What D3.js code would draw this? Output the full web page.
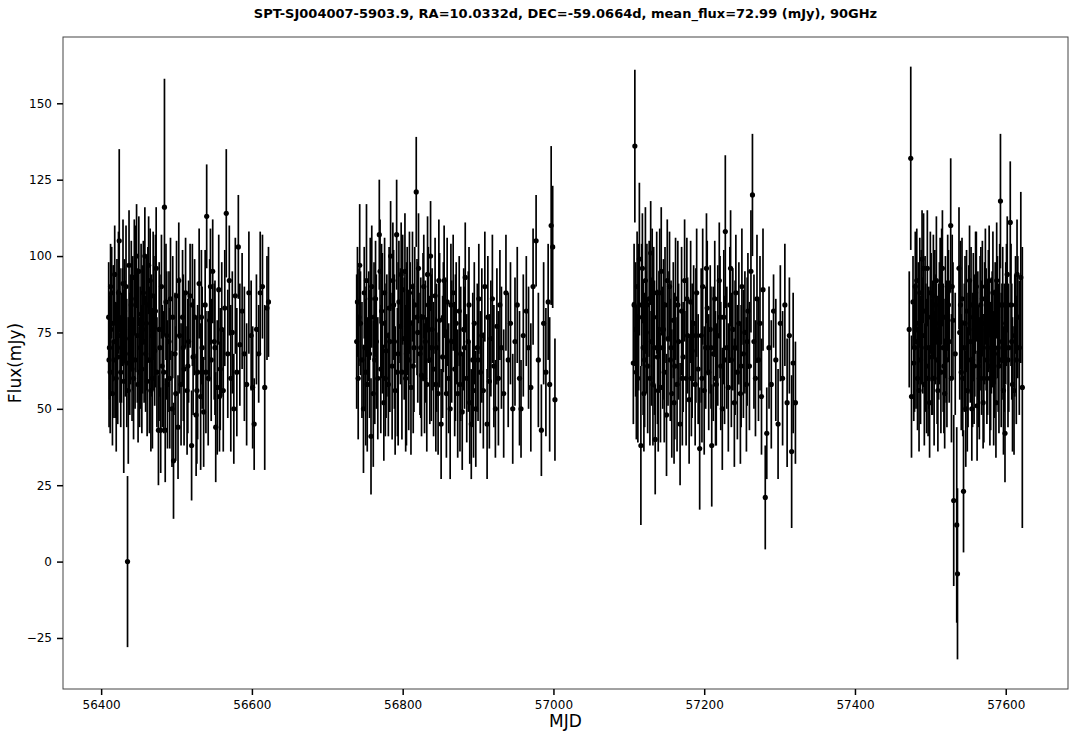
<!DOCTYPE html>
<html>
<head>
<meta charset="utf-8">
<script src="https://cdn.jsdelivr.net/npm/d3@7"></script>
<style>
body{margin:0;background:#fff;}
svg{display:block;font-family:"DejaVu Sans",sans-serif;}
</style>
</head>
<body>
<svg id="chart" width="1081" height="739"></svg>
<script>
const titleText = "SPT-SJ004007-5903.9, RA=10.0332d, DEC=-59.0664d, mean_flux=72.99 (mJy), 90GHz";
const xLabel = "MJD";
const yLabel = "Flux(mJy)";
const xTicks = [56400, 56600, 56800, 57000, 57200, 57400, 57600];
const yTicks = [-25, 0, 25, 50, 75, 100, 125, 150];

// [MJD, flux (mJy), 1-sigma error (mJy)]
const season1 = [[56410,80,18],[56411,70,17],[56412,62,20],[56413,76,21],[56414,88,15],[56415,55,17],[56417,72,25],[56418,94,16],[56419,66,19],[56421,84,15],[56422,67,22],[56424,105,30],[56425,74,22],[56426,62,18],[56428,80,16],[56429,91,21],[56430,59,30],[56432,73,19],[56433,90,20],[56435,0,28],[56436,56,24],[56437,97,18],[56438,68,20],[56440,84,21],[56441,63,17],[56442,78,22],[56444,93,19],[56445,66,16],[56446,86,24],[56448,74,22],[56449,58,19],[56450,95,18],[56452,70,20],[56453,81,23],[56454,63,21],[56456,88,17],[56457,72,20],[56458,100,16],[56460,78,22],[56461,59,18],[56462,84,19],[56464,66,24],[56465,92,17],[56467,74,20],[56468,60,23],[56469,87,21],[56471,69,18],[56472,82,25],[56474,62,18],[56476,43,18],[56477,76,22],[56479,43,14],[56480,90,17],[56481,64,20],[56484,116,42],[56485,43,17],[56486,85,19],[56488,58,21],[56490,72,23],[56492,86,20],[56494,50,19],[56496,33,19],[56498,68,20],[56500,87,18],[56502,44,17],[56504,74,19],[56506,58,20],[56508,80,22],[56510,63,25],[56512,88,18],[56514,56,21],[56516,72,20],[56518,87,17],[56520,38,18],[56522,67,19],[56524,80,19],[56526,48,20],[56528,62,22],[56530,91,18],[56532,54,24],[56534,70,20],[56536,49,18],[56538,84,18],[56540,113,17],[56542,60,22],[56544,79,20],[56546,66,20],[56548,95,17],[56550,72,19],[56552,44,18],[56554,57,22],[56556,89,18],[56558,63,20],[56560,76,22],[56562,56,20],[56564,83,19],[56566,114,21],[56568,68,21],[56570,92,18],[56572,60,24],[56574,75,20],[56576,50,18],[56578,87,19],[56580,62,21],[56582,103,17],[56584,71,20],[56587,82,19],[56590,68,22],[56593,58,20],[56596,88,20],[56599,74,18],[56601,57,20],[56603,45,15],[56606,76,18],[56609,68,16],[56611,88,20],[56614,90,17],[56617,57,27],[56620,83,17],[56622,85,18],
[56410.5,66,22],[56412.5,90,14],[56416,78,19],[56420,60,24],[56423,88,20],[56427,70,18],[56431,82,17],[56434,65,21],[56439,76,18],[56443,60,20],[56447,100,17],[56451,62,18],[56455,76,21],[56459,68,19],[56463,97,16],[56466,56,20],[56470,78,22],[56473,96,20],[56478,70,24],[56483,62,20],[56487,74,21],[56491,60,23],[56495,80,20],[56499,55,22],[56503,92,19],[56509,70,24],[56515,64,22],[56521,84,20],[56527,56,24],[56533,80,22],[56539,62,20],[56545,90,19],[56551,70,22],[56557,54,18]];

const season2 = [[56739,72,22],[56740,85,18],[56741,60,20],[56743,97,20],[56744,78,17],[56746,66,19],[56748,50,21],[56749,88,15],[56750,70,20],[56752,92,25],[56753,58,22],[56755,77,18],[56756,68,21],[56758,41,19],[56759,90,20],[56761,55,24],[56762,80,18],[56764,86,19],[56765,72,22],[56767,60,20],[56769,107,18],[56770,95,17],[56771,63,21],[56773,78,23],[56775,52,19],[56776,88,18],[56778,69,22],[56779,74,20],[56781,58,17],[56782,83,20],[56784,100,18],[56786,64,24],[56787,92,19],[56789,72,22],[56790,56,21],[56792,107,18],[56794,68,30],[56795,85,20],[56797,77,19],[56799,62,22],[56800,89,18],[56802,73,20],[56803,95,19],[56805,68,30],[56806,82,21],[56808,66,23],[56810,78,20],[56811,57,22],[56813,90,18],[56815,70,21],[56816,84,19],[56818,121,18],[56820,75,23],[56821,96,18],[56823,68,20],[56825,61,20],[56827,80,21],[56828,90,17],[56830,72,20],[56832,58,22],[56834,84,19],[56836,66,21],[56837,100,18],[56839,76,20],[56841,63,22],[56843,87,19],[56845,70,21],[56847,55,20],[56849,79,22],[56851,45,18],[56853,67,20],[56855,92,18],[56857,74,19],[56859,85,21],[56861,60,18],[56863,50,23],[56865,72,20],[56867,88,19],[56869,63,22],[56871,78,20],[56873,55,21],[56875,82,18],[56877,68,22],[56879,49,19],[56881,76,20],[56883,93,18],[56885,60,21],[56887,72,23],[56889,52,20],[56891,45,18],[56893,66,22],[56895,78,20],[56897,50,19],[56899,70,21],[56901,86,18],[56903,62,20],[56905,74,22],[56907,56,19],[56909,90,18],[56912,45,18],[56913,80,20],[56915,59,22],[56917,73,19],[56919,86,21],[56921,64,20],[56923,50,16],[56925,77,19],[56927,60,22],[56929,84,18],[56931,70,20],[56934,55,21],[56937,88,19],[56940,66,22],[56943,78,20],[56946,50,18],[56949,72,21],[56952,84,19],[56955,60,22],[56957,50,16],[56960,74,20],[56964,82,18],[56967,70,20],[56970,57,21],[56973,90,19],[56977,105,15],[56980,66,22],[56984,43,15],[56987,78,20],[56990,62,21],[56993,85,19],[56995,58,22],[56997,110,26],[56999,103,20],[57002,53,20],
[56742,80,16],[56751,62,24],[56757,86,20],[56763,66,21],[56772,82,22],[56777,60,19],[56783,72,23],[56788,84,18],[56793,62,21],[56798,94,17],[56804,60,24],[56809,88,20],[56814,64,22],[56819,80,19],[56824,70,23],[56829,60,18],[56833,94,19],[56838,70,24],[56844,58,22],[56848,92,20],[56854,80,18],[56858,55,21],[56864,84,20],[56870,70,24],[56876,58,22],[56882,70,20],[56888,84,19],[56894,56,22],[56900,66,20]];

const season3 = [[57106,65,20],[57108,136,25],[57109,76,22],[57111,90,18],[57112,60,21],[57114,99,25],[57116,38,26],[57117,84,20],[57119,70,22],[57120,55,19],[57122,92,24],[57123,75,20],[57125,64,22],[57127,86,19],[57129,101,17],[57130,72,21],[57132,58,20],[57133,80,23],[57135,40,18],[57137,88,20],[57138,67,22],[57140,76,19],[57142,57,18],[57143,95,21],[57145,70,20],[57147,62,23],[57148,84,19],[57150,48,20],[57152,73,22],[57154,90,18],[57155,66,20],[57157,55,21],[57159,79,19],[57161,64,24],[57162,86,20],[57164,58,22],[57166,72,19],[57168,45,20],[57170,82,21],[57172,67,18],[57174,92,20],[57176,60,22],[57178,74,19],[57180,53,21],[57182,85,20],[57184,69,22],[57186,78,19],[57188,58,20],[57190,88,21],[57192,63,18],[57194,37,20],[57196,74,22],[57198,90,19],[57200,56,21],[57202,70,20],[57204,83,22],[57206,62,19],[57208,76,21],[57210,38,20],[57212,68,22],[57214,86,19],[57216,58,20],[57218,74,23],[57220,92,19],[57222,64,21],[57224,50,20],[57226,80,22],[57228,108,25],[57230,70,20],[57232,57,21],[57234,84,19],[57236,66,22],[57238,76,20],[57240,52,21],[57242,88,19],[57244,62,22],[57246,78,20],[57248,55,23],[57250,90,19],[57252,68,21],[57254,75,20],[57256,58,22],[57258,82,19],[57260,64,21],[57262,95,20],[57264,120,20],[57266,72,22],[57268,60,19],[57270,86,21],[57272,66,20],[57274,78,22],[57276,54,19],[57278,89,20],[57281,21,17],[57283,42,15],[57286,70,20],[57289,58,21],[57292,82,12],[57295,66,20],[57298,45,18],[57301,78,19],[57304,60,22],[57307,84,20],[57310,52,21],[57313,74,19],[57316,36,25],[57318,65,23],[57321,52,20],
[57107,84,20],[57110,62,22],[57113,80,24],[57118,96,18],[57121,66,22],[57124,84,20],[57128,60,22],[57131,90,19],[57134,70,22],[57139,56,20],[57141,88,21],[57146,76,23],[57151,92,20],[57156,70,22],[57160,52,20],[57165,84,21],[57171,60,22],[57177,86,20],[57183,60,19],[57189,74,22],[57197,60,21],[57203,96,18],[57209,70,20],[57215,60,22],[57221,80,20],[57227,66,21],[57235,96,19],[57241,70,22],[57249,64,20],[57257,72,21]];

const season4 = [[57472,76,19],[57474,132,30],[57475,54,20],[57477,85,15],[57478,65,19],[57480,90,18],[57481,72,22],[57483,60,17],[57484,78,20],[57486,88,18],[57487,66,21],[57489,99,16],[57490,74,19],[57492,58,20],[57493,82,18],[57495,64,22],[57496,96,19],[57498,70,20],[57499,52,18],[57501,80,21],[57502,67,19],[57504,87,20],[57505,60,22],[57507,76,18],[57508,92,21],[57510,56,20],[57511,72,19],[57513,84,22],[57514,62,20],[57516,96,19],[57517,70,21],[57519,55,18],[57520,80,20],[57522,66,22],[57523,88,19],[57525,72,20],[57527,110,22],[57528,60,21],[57530,79,19],[57531,20,28],[57533,68,20],[57535,12,32],[57536,-4,28],[57538,96,20],[57539,75,22],[57541,62,19],[57542,86,20],[57544,23,20],[57545,70,21],[57547,50,19],[57548,82,20],[57550,66,22],[57552,92,18],[57553,72,20],[57555,50,17],[57557,80,21],[57558,64,19],[57560,88,20],[57562,51,18],[57563,74,21],[57565,60,20],[57567,84,19],[57568,70,22],[57570,52,15],[57572,78,20],[57573,90,19],[57575,66,21],[57577,82,20],[57579,60,22],[57581,74,19],[57583,88,20],[57585,68,21],[57587,52,18],[57589,80,20],[57591,64,22],[57593,118,22],[57595,72,19],[57597,56,21],[57599,42,16],[57601,84,20],[57603,66,22],[57606,111,20],[57608,72,19],[57611,56,21],[57613,84,16],[57615,94,18],[57618,70,22],[57620,93,28],[57622,57,46],
[57479,70,21],[57482,92,17],[57485,56,20],[57488,80,22],[57491,96,18],[57494,70,21],[57497,60,19],[57500,88,20],[57503,70,22],[57506,84,18],[57509,66,21],[57512,78,20],[57515,90,19],[57518,64,22],[57521,72,20],[57524,84,18],[57529,90,17],[57540,84,21],[57543,60,19],[57546,78,22],[57549,56,20],[57551,76,21],[57554,84,19],[57556,66,22],[57559,74,20],[57561,90,18],[57564,64,20],[57566,78,22],[57569,86,19],[57571,60,21],[57574,76,20],[57576,70,22],[57578,92,18],[57580,64,21],[57582,76,19],[57584,60,22],[57586,78,20],[57588,92,19],[57590,70,21],[57592,84,20],[57594,66,22],[57596,84,19],[57598,70,21],[57600,78,20],[57602,94,19],[57604,70,21],[57607,84,20],[57609,58,22],[57612,74,20],[57614,66,21],[57616,80,20]];

const points = [].concat(season1, season2, season3, season4).map(d => ({mjd: d[0], flux: d[1], err: d[2]}));

const W = 1081, H = 739;
const m = {left: 63, right: 13, top: 37, bottom: 50};
const svg = d3.select("#chart");

// matplotlib-like autoscale with 5% margins
const xExt = d3.extent(points, d => d.mjd);
const yLo = d3.min(points, d => d.flux - d.err), yHi = d3.max(points, d => d.flux + d.err);
const xPad = (xExt[1] - xExt[0]) * 0.05, yPad = (yHi - yLo) * 0.05;

const x = d3.scaleLinear().domain([xExt[0] - xPad, xExt[1] + xPad]).range([m.left, W - m.right]);
const y = d3.scaleLinear().domain([yLo - yPad, yHi + yPad]).range([H - m.bottom, m.top]);

const g = svg.append("g");

// error bars
g.append("g").selectAll("line").data(points).join("line")
  .attr("x1", d => x(d.mjd)).attr("x2", d => x(d.mjd))
  .attr("y1", d => y(d.flux - d.err)).attr("y2", d => y(d.flux + d.err))
  .attr("stroke", "#000").attr("stroke-width", 1.7);

// markers
g.append("g").selectAll("circle").data(points).join("circle")
  .attr("cx", d => x(d.mjd)).attr("cy", d => y(d.flux))
  .attr("r", 2.6).attr("fill", "#000");

// frame
svg.append("rect").attr("x", m.left).attr("y", m.top)
  .attr("width", W - m.left - m.right).attr("height", H - m.top - m.bottom)
  .attr("fill", "none").attr("stroke", "#444").attr("stroke-width", 1);

// axes
const xAxis = svg.append("g").attr("transform", `translate(0,${H - m.bottom})`)
  .call(d3.axisBottom(x).tickValues(xTicks).tickFormat(d3.format("d")).tickSize(6).tickPadding(5));
const yAxis = svg.append("g").attr("transform", `translate(${m.left},0)`)
  .call(d3.axisLeft(y).tickValues(yTicks).tickFormat(d => d < 0 ? "\u2212" + Math.abs(d) : String(d)).tickSize(6).tickPadding(5));
[xAxis, yAxis].forEach(a => {
  a.select(".domain").remove();
  a.selectAll(".tick line").attr("stroke", "#000").attr("stroke-width", 1.5);
  a.selectAll(".tick text").attr("fill", "#000").style("font-size", "12px").style("font-family", "DejaVu Sans");
});

// title and labels
svg.append("text").attr("x", (m.left + W - m.right) / 2).attr("y", 18)
  .attr("text-anchor", "middle").style("font-size", "13px").style("font-weight", "bold")
  .text(titleText);
svg.append("text").attr("x", (m.left + W - m.right) / 2).attr("y", 727)
  .attr("text-anchor", "middle").style("font-size", "17px").text(xLabel);
svg.append("text").attr("transform", `translate(21,${(m.top + H - m.bottom) / 2}) rotate(-90)`)
  .attr("text-anchor", "middle").style("font-size", "17px").text(yLabel);
</script>
</body>
</html>
